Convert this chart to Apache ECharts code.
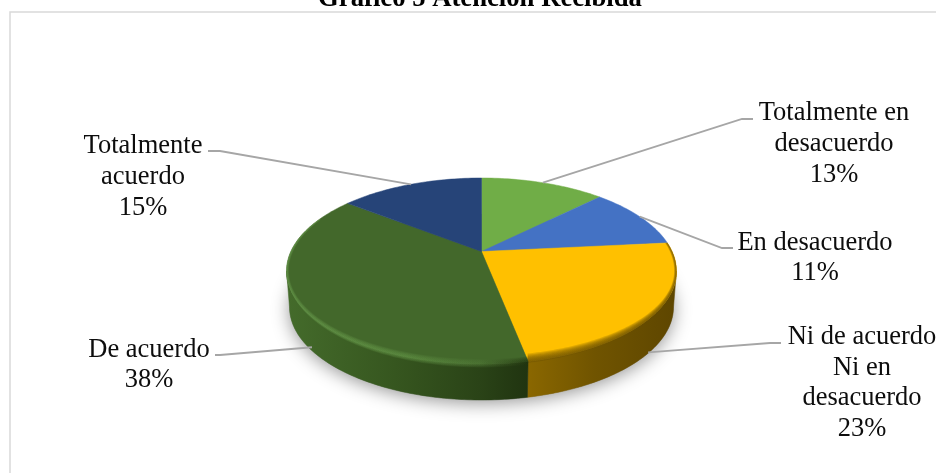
<!DOCTYPE html>
<html>
<head>
<meta charset="utf-8">
<style>
  html, body { margin: 0; padding: 0; background: #fff; }
  #chart { width: 936px; height: 473px; }
</style>
<script src="https://cdn.jsdelivr.net/npm/echarts@6/dist/echarts.min.js"></script>
</head>
<body>
<div id="chart"></div>
<script>
// Survey answers, clockwise from twelve o'clock
const categories = [
  'Totalmente en\ndesacuerdo',
  'En desacuerdo',
  'Ni de acuerdo\nNi en\ndesacuerdo',
  'De acuerdo',
  'Totalmente\nacuerdo'
];
const shares = [13, 11, 23, 38, 15];

// Slice appearance, same order as the categories
const topColors = ['#70ad47', '#4472c4', '#ffc000', '#43682b', '#264478'];
const wallStops = [
  null, null,
  [[0, '#8a6700'], [0.45, '#705400'], [1, '#5e4600']],
  [[0, '#446b2b'], [0.45, '#36561f'], [0.8, '#2a4317'], [1, '#203410']],
  null
];
const rimStops = [
  null, null,
  [[0, '#6e5200'], [1, '#6e5200']],
  [[0, '#66994a'], [0.5, '#5f9043'], [0.8, '#4d7534'], [1, '#22360f']],
  null
];

// Label placement: text centre, elbow of the leader, end of the leader
const labelCentres = [[834, 144], [815, 258], [862, 383], [149, 365], [143, 177]];
const leaderBends = [[[742, 119], [753, 119]], [[722, 248], [733, 248]], [[770, 343], [781, 343]], [[220, 355], [215, 355]], [[220, 151], [208, 151]]];
// Leader start, pulled in and down onto the side wall for the front slices
const leaderInset = [0, 0, 10, 15, 0];
const leaderDrop = [0, 0, 41, 45, 0];

// Tilted disc geometry
const disc = { cx: 481.5, cy: 271, rx: 195, ry: 93, depth: 36, wallInset: 3, perspective: 0.78, apexY: 251.5 };
const STEP = Math.PI / 180;

// Share of the circle (0..100) to the angle on the foreshortened ellipse
function screenAngle(pct) {
  const half = pct / 100 * Math.PI;
  return 2 * Math.atan2(disc.perspective * Math.sin(half), Math.cos(half));
}
function rimPoint(a, inset, dy) {
  return [disc.cx + (disc.rx - inset) * Math.sin(a), disc.cy + dy - disc.ry * Math.cos(a)];
}
function arc(a0, a1, fn) {
  const n = Math.max(2, Math.ceil(Math.abs(a1 - a0) / STEP));
  const pts = [];
  for (let i = 0; i <= n; i++) pts.push(fn(a0 + (a1 - a0) * i / n));
  return pts;
}
function xGradient(x0, x1, stops) {
  return new echarts.graphic.LinearGradient(x0, 0, x1, 0,
    stops.map(s => ({ offset: s[0], color: s[1] })), true);
}

const cumulative = [];
shares.reduce((sum, v, i) => { cumulative[i] = sum; return sum + v; }, 0);
const sliceRows = shares.map((v, i) => [cumulative[i], v, i]);

function renderShadow() {
  return {
    type: 'polygon',
    shape: { points: arc(0, 2 * Math.PI, a => rimPoint(a, disc.wallInset, disc.depth)) },
    style: { fill: '#8c8c8c', shadowBlur: 18, shadowColor: 'rgba(0,0,0,0.42)', shadowOffsetY: 3 }
  };
}

function renderSlice(params, api) {
  const start = api.value(0), share = api.value(1), idx = api.value(2);
  const a0 = screenAngle(start), a1 = screenAngle(start + share);
  const children = [];

  // Side wall, only where the disc faces the viewer
  const w0 = Math.max(a0, Math.PI / 2), w1 = Math.min(a1, 3 * Math.PI / 2);
  if (wallStops[idx] && w1 > w0) {
    const x0 = idx === 3 ? rimPoint(w1, 0, 0)[0] : rimPoint(w0, 0, 0)[0];
    const x1 = idx === 3 ? rimPoint(w0, 0, 0)[0] : rimPoint(w1, 0, 0)[0];
    const stops = idx === 3 ? wallStops[idx] : wallStops[idx].slice().map(s => [1 - s[0], s[1]]).reverse();
    const fill = xGradient(x0, x1, stops);
    children.push({
      type: 'polygon',
      shape: { points: arc(w0, w1, a => rimPoint(a, 0, 0)).concat(arc(w1, w0, a => rimPoint(a, disc.wallInset, disc.depth))) },
      style: { fill, stroke: fill, lineWidth: 0.5 }
    });
  }

  // Top face
  children.push({
    type: 'polygon',
    shape: { points: [[disc.cx, disc.apexY]].concat(arc(a0, a1, a => rimPoint(a, 0, 0))) },
    style: { fill: topColors[idx], stroke: topColors[idx], lineWidth: 0.5 }
  });

  // Soft bevel along the front of the top face, spilling a little onto the wall
  const b0 = Math.max(a0, 1.25), b1 = Math.min(a1, 5.3);
  if (rimStops[idx] && b1 > b0) {
    const xL = idx === 3 ? rimPoint(b1, 0, 0)[0] : disc.cx;
    const xR = idx === 3 ? rimPoint(b0, 0, 0)[0] : disc.cx + disc.rx;
    const rim = xGradient(Math.min(xL, disc.cx - disc.rx), xR, rimStops[idx]);
    const layers = 7, width = idx === 3 ? 5 : 8;
    const below = idx === 3 ? 4 : 2;
    for (let i = layers; i >= 1; i--) {
      const f = i / layers;
      const inner = arc(b0, b1, a => rimPoint(a, 2.4 * f, -width * f * Math.max(0, -Math.cos(a))));
      const outer = arc(b1, b0, a => rimPoint(a, 0, below * (1 - f) * Math.max(0, -Math.cos(a))));
      children.push({
        type: 'polygon',
        shape: { points: inner.concat(outer) },
        style: { fill: rim, opacity: idx === 3 ? 0.17 : 0.22 }
      });
    }
  }
  return { type: 'group', children };
}

function renderLabel(params, api) {
  const start = api.value(0), share = api.value(1), idx = api.value(2);
  const mid = screenAngle(start + share / 2);
  const from = rimPoint(mid, leaderInset[idx], leaderDrop[idx]);
  const centre = labelCentres[idx];
  return {
    type: 'group',
    children: [
      {
        type: 'polyline',
        shape: { points: [from].concat(leaderBends[idx]) },
        style: { fill: 'none', stroke: '#a6a6a6', lineWidth: 1.8 }
      },
      {
        type: 'text',
        style: {
          x: centre[0], y: centre[1],
          text: categories[idx] + '\n' + share + '%',
          font: '26.5px "Liberation Serif"',
          lineHeight: 30.8,
          fill: '#0d0d0d',
          align: 'center',
          verticalAlign: 'middle'
        }
      }
    ]
  };
}

const chart = echarts.init(document.getElementById('chart'), null, { renderer: 'canvas' });
chart.setOption({
  animation: false,
  backgroundColor: '#ffffff',
  title: {
    text: 'Gráfico 5 Atención Recibida',
    left: 475, textAlign: 'center', top: -19,
    textStyle: { fontFamily: 'Liberation Serif', fontWeight: 'bold', fontSize: 26.7, color: '#000' }
  },
  graphic: [
    // Chart frame: only the top and left edges fall inside the page
    { type: 'polyline', silent: true, shape: { points: [[10, 473], [10, 12], [936, 12]] },
      style: { fill: 'none', stroke: '#d9d9d9', lineWidth: 1.5 } }
  ],
  series: [
    { type: 'custom', coordinateSystem: 'none', silent: true, z: 1, data: [[0]], renderItem: renderShadow },
    { type: 'custom', coordinateSystem: 'none', silent: true, z: 2, data: sliceRows, renderItem: renderSlice },
    { type: 'custom', coordinateSystem: 'none', silent: true, z: 3, data: sliceRows, renderItem: renderLabel }
  ]
});
</script>
</body>
</html>
